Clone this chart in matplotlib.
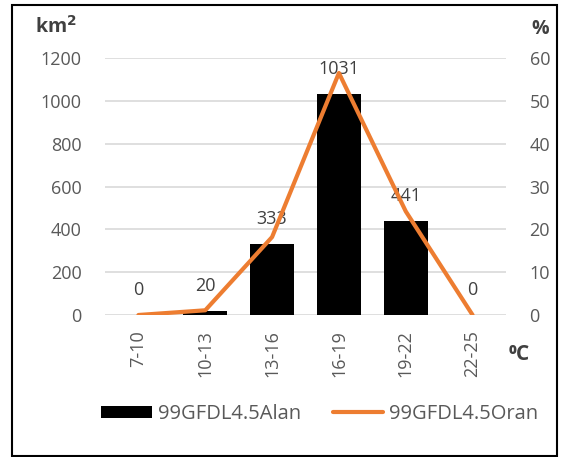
import matplotlib.pyplot as plt
from matplotlib.patches import Rectangle

categories = ['7-10', '10-13', '13-16', '16-19', '19-22', '22-25']
area_km2 = [0, 20, 333, 1031, 441, 0]
share_pct = [0, 1.1, 18.2, 56.5, 24.2, 0]

GRAY = '#595959'
DARK = '#404040'
ORANGE = '#ED7D31'

plt.rcParams['font.family'] = ['Open Sans', 'DejaVu Sans']

fig = plt.figure(figsize=(5.67, 4.57), dpi=100)
W, H = 567, 457

# outer frame of the chart
fig.patches.append(Rectangle((12 / W, 1 / H), 545 / W, 451 / H, transform=fig.transFigure,
                             fill=False, edgecolor='black', linewidth=1.5))

ax = fig.add_axes([105 / W, 1 - 315 / H, 401 / W, 257 / H])
x = range(len(categories))
bars = ax.bar(x, area_km2, width=0.66, color='black', zorder=2, label='99GFDL4.5Alan')
ax.set_xlim(-0.5, len(categories) - 0.5)
ax.set_ylim(0, 1200)
ax.set_yticks(range(0, 1201, 200))
ax.grid(axis='y', color='#d9d9d9', linewidth=1.2, zorder=0)
for s in ax.spines.values():
    s.set_visible(False)
ax.tick_params(axis='both', length=0, labelsize=13, labelcolor=GRAY)
ax.tick_params(axis='y', pad=17)
ax.set_xticks(list(x))
ax.set_xticklabels(categories, rotation=90)
ax.tick_params(axis='x', pad=11)

# value labels sit a fixed distance above each bar
for xi, v in zip(x, area_km2):
    ax.annotate(str(v), (xi, v), xytext=(0, 18), textcoords='offset points',
                ha='center', va='center', fontsize=13, color=DARK)

ax2 = ax.twinx()
line, = ax2.plot(list(x), share_pct, color=ORANGE, linewidth=3, solid_capstyle='round',
                 label='99GFDL4.5Oran')
ax2.set_ylim(0, 60)
ax2.set_yticks(range(0, 61, 10))
for s in ax2.spines.values():
    s.set_visible(False)
ax2.tick_params(axis='y', length=0, labelsize=13, labelcolor=GRAY, pad=17)

fig.text(35 / W, 1 - 27 / H, 'km$^\\mathbf{2}$', fontsize=14, fontweight='bold', color=DARK,
         ha='left', va='center')
fig.text(540 / W, 1 - 29 / H, '%', fontsize=14, fontweight='bold', color=DARK,
         ha='center', va='center')
fig.text(519 / W, 1 - 355 / H, '⁰C', fontsize=15, fontweight='bold', color=DARK,
         ha='center', va='center')

fig.legend(handles=[bars, line], loc='center', bbox_to_anchor=(320 / W, 1 - 414 / H), ncol=2,
           frameon=False, fontsize=14.5, labelcolor=GRAY, handlelength=2.5, handleheight=0.6,
           handletextpad=0.3, columnspacing=1.6)

fig.savefig('out.png', dpi=100)
